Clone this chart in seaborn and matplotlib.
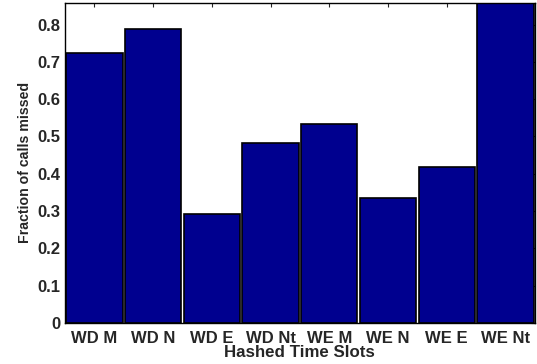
import numpy as np
import pandas as pd
import matplotlib
matplotlib.use("Agg")
import matplotlib.pyplot as plt
import seaborn as sns

slots = ['WD M', 'WD N', 'WD E', 'WD Nt', 'WE M', 'WE N', 'WE E', 'WE Nt']
missed = [0.725, 0.787, 0.291, 0.483, 0.533, 0.334, 0.419, 0.90]
yticks = [0, 0.1, 0.2, 0.3, 0.4, 0.5, 0.6, 0.7, 0.8]
ytick_labels = ['0', '0.1', '0.2', '0.3', '0.4', '0.5', '0.6', '0.7', '0.8']

df = pd.DataFrame({'slot': slots, 'missed': missed})

sns.set_style("white")
plt.rcParams['font.family'] = ['Liberation Sans', 'DejaVu Sans']
plt.rcParams['font.weight'] = 'bold'

fig = plt.figure(figsize=(5.37, 3.64), dpi=100)
ax = fig.add_axes([0.121, 0.113, 0.875, 0.879])
sns.barplot(x='slot', y='missed', data=df, color='#00008F', saturation=1,
            width=0.96, edgecolor='black', linewidth=1.2, ax=ax)
ax.set_xlim(-0.5, 7.5)
ax.set_ylim(0, 0.858)
ax.set_yticks(yticks)
ax.set_yticklabels(ytick_labels)
ax.tick_params(direction='in', length=3, top=True, right=True, labelsize=12)
ax.tick_params(axis='x', pad=6)
ax.tick_params(axis='y', pad=3)
for lab in ax.get_xticklabels() + ax.get_yticklabels():
    lab.set_fontweight('bold')
for s in ax.spines.values():
    s.set_color('black')
    s.set_linewidth(1.0)
ax.set_xlabel('Hashed Time Slots', fontsize=12.2, fontweight='bold', labelpad=-1)
ax.set_ylabel('Fraction of calls missed', fontsize=10.2, fontweight='bold', labelpad=4)
fig.savefig('out.png', dpi=100)
